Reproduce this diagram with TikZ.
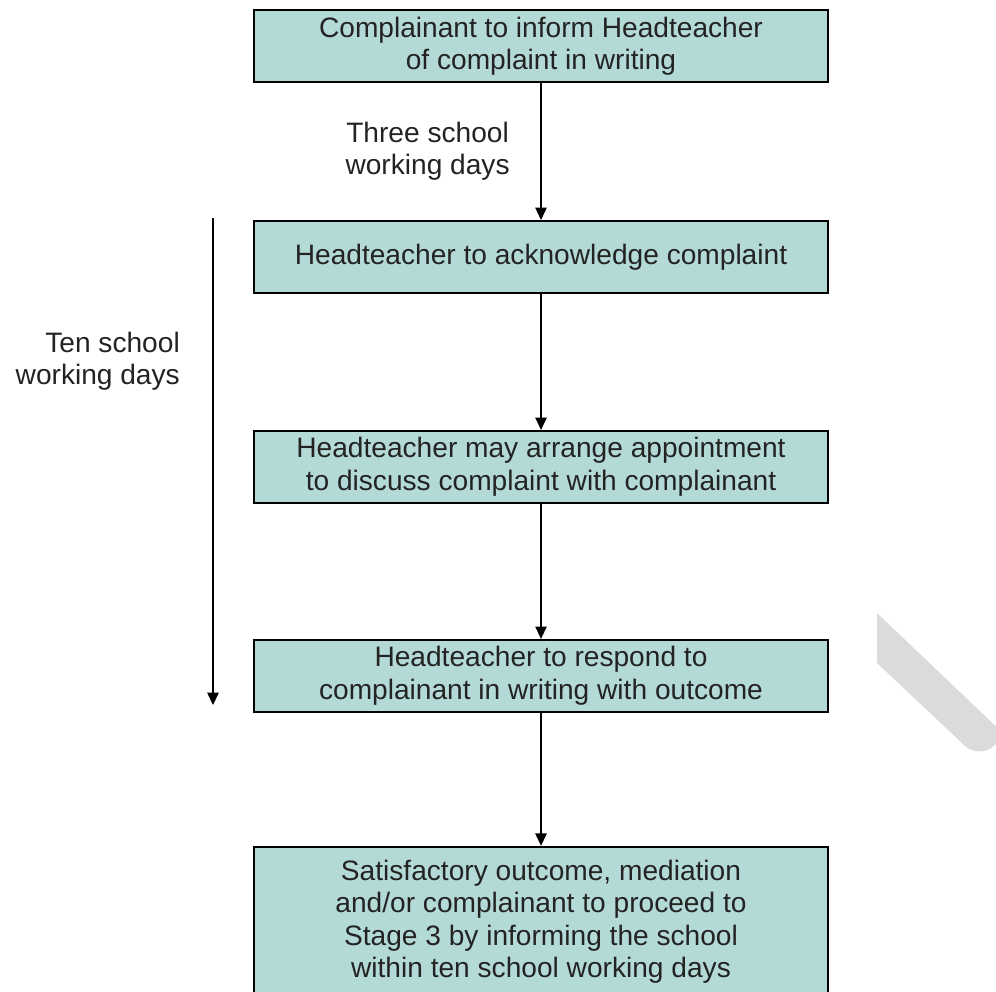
\documentclass[tikz,border=0pt]{standalone}
\usepackage{fontspec}
\setmainfont{Liberation Sans}
\usetikzlibrary{arrows.meta, positioning}
\definecolor{boxfill}{RGB}{180,218,216}
\definecolor{inkgrey}{RGB}{35,35,35}
\tikzset{
    box/.style={draw=black, line width=1.1pt, fill=boxfill, align=center, text=inkgrey, minimum width=11.48cm, minimum height=1.44cm, font=\fontsize{16}{18.5}\selectfont},
    arrow/.style={-{Triangle[length=7pt, width=6.5pt]}, line width=0.6pt, black},
    note/.style={align=center, text=inkgrey, font=\fontsize{16}{18.5}\selectfont}
}

\begin{document}
\begin{tikzpicture}
        \useasboundingbox (0,0) rectangle (19.92,-19.82);
        \node [box] (inform) at (10.82,-0.92) {Complainant to inform Headteacher \\ of complaint in writing};
        \node [box, below=2.74cm of inform] (ack) {Headteacher to acknowledge complaint};
        \node [box, below=2.72cm of ack] (meet) {Headteacher may arrange appointment \\ to discuss complaint with complainant};
        \node [box, below=2.7cm of meet] (reply) {Headteacher to respond to \\ complainant in writing with outcome};
        \node [box, below=2.66cm of reply, minimum height=3.0cm] (stage) {Satisfactory outcome, mediation \\ and/or complainant to proceed to \\ Stage 3 by informing the school \\ within ten school working days};

        \draw [arrow] (inform) -- node[note, left=0.5cm] {Three school \\ working days} (ack);
        \draw [arrow] (ack) -- (meet);
        \draw [arrow] (meet) -- (reply);
        \draw [arrow] (reply) -- (stage);

        % ten day span on the left
        \coordinate (tentop) at (4.26,-4.36);
        \coordinate (tenbot) at (4.26,-14.1);
        \draw [arrow] (tentop) -- (tenbot);
        \node [note, align=right, anchor=east] (ten) at (3.72,-7.22) {Ten school \\ working days};

        % grey stroke at the right edge
        \fill [black!14] (17.54,-12.26) -- (20.1,-14.7) {[rounded corners=12pt] -- (19.6,-15.2)} -- (17.54,-13.26) -- cycle;
    \end{tikzpicture}
\end{document}
